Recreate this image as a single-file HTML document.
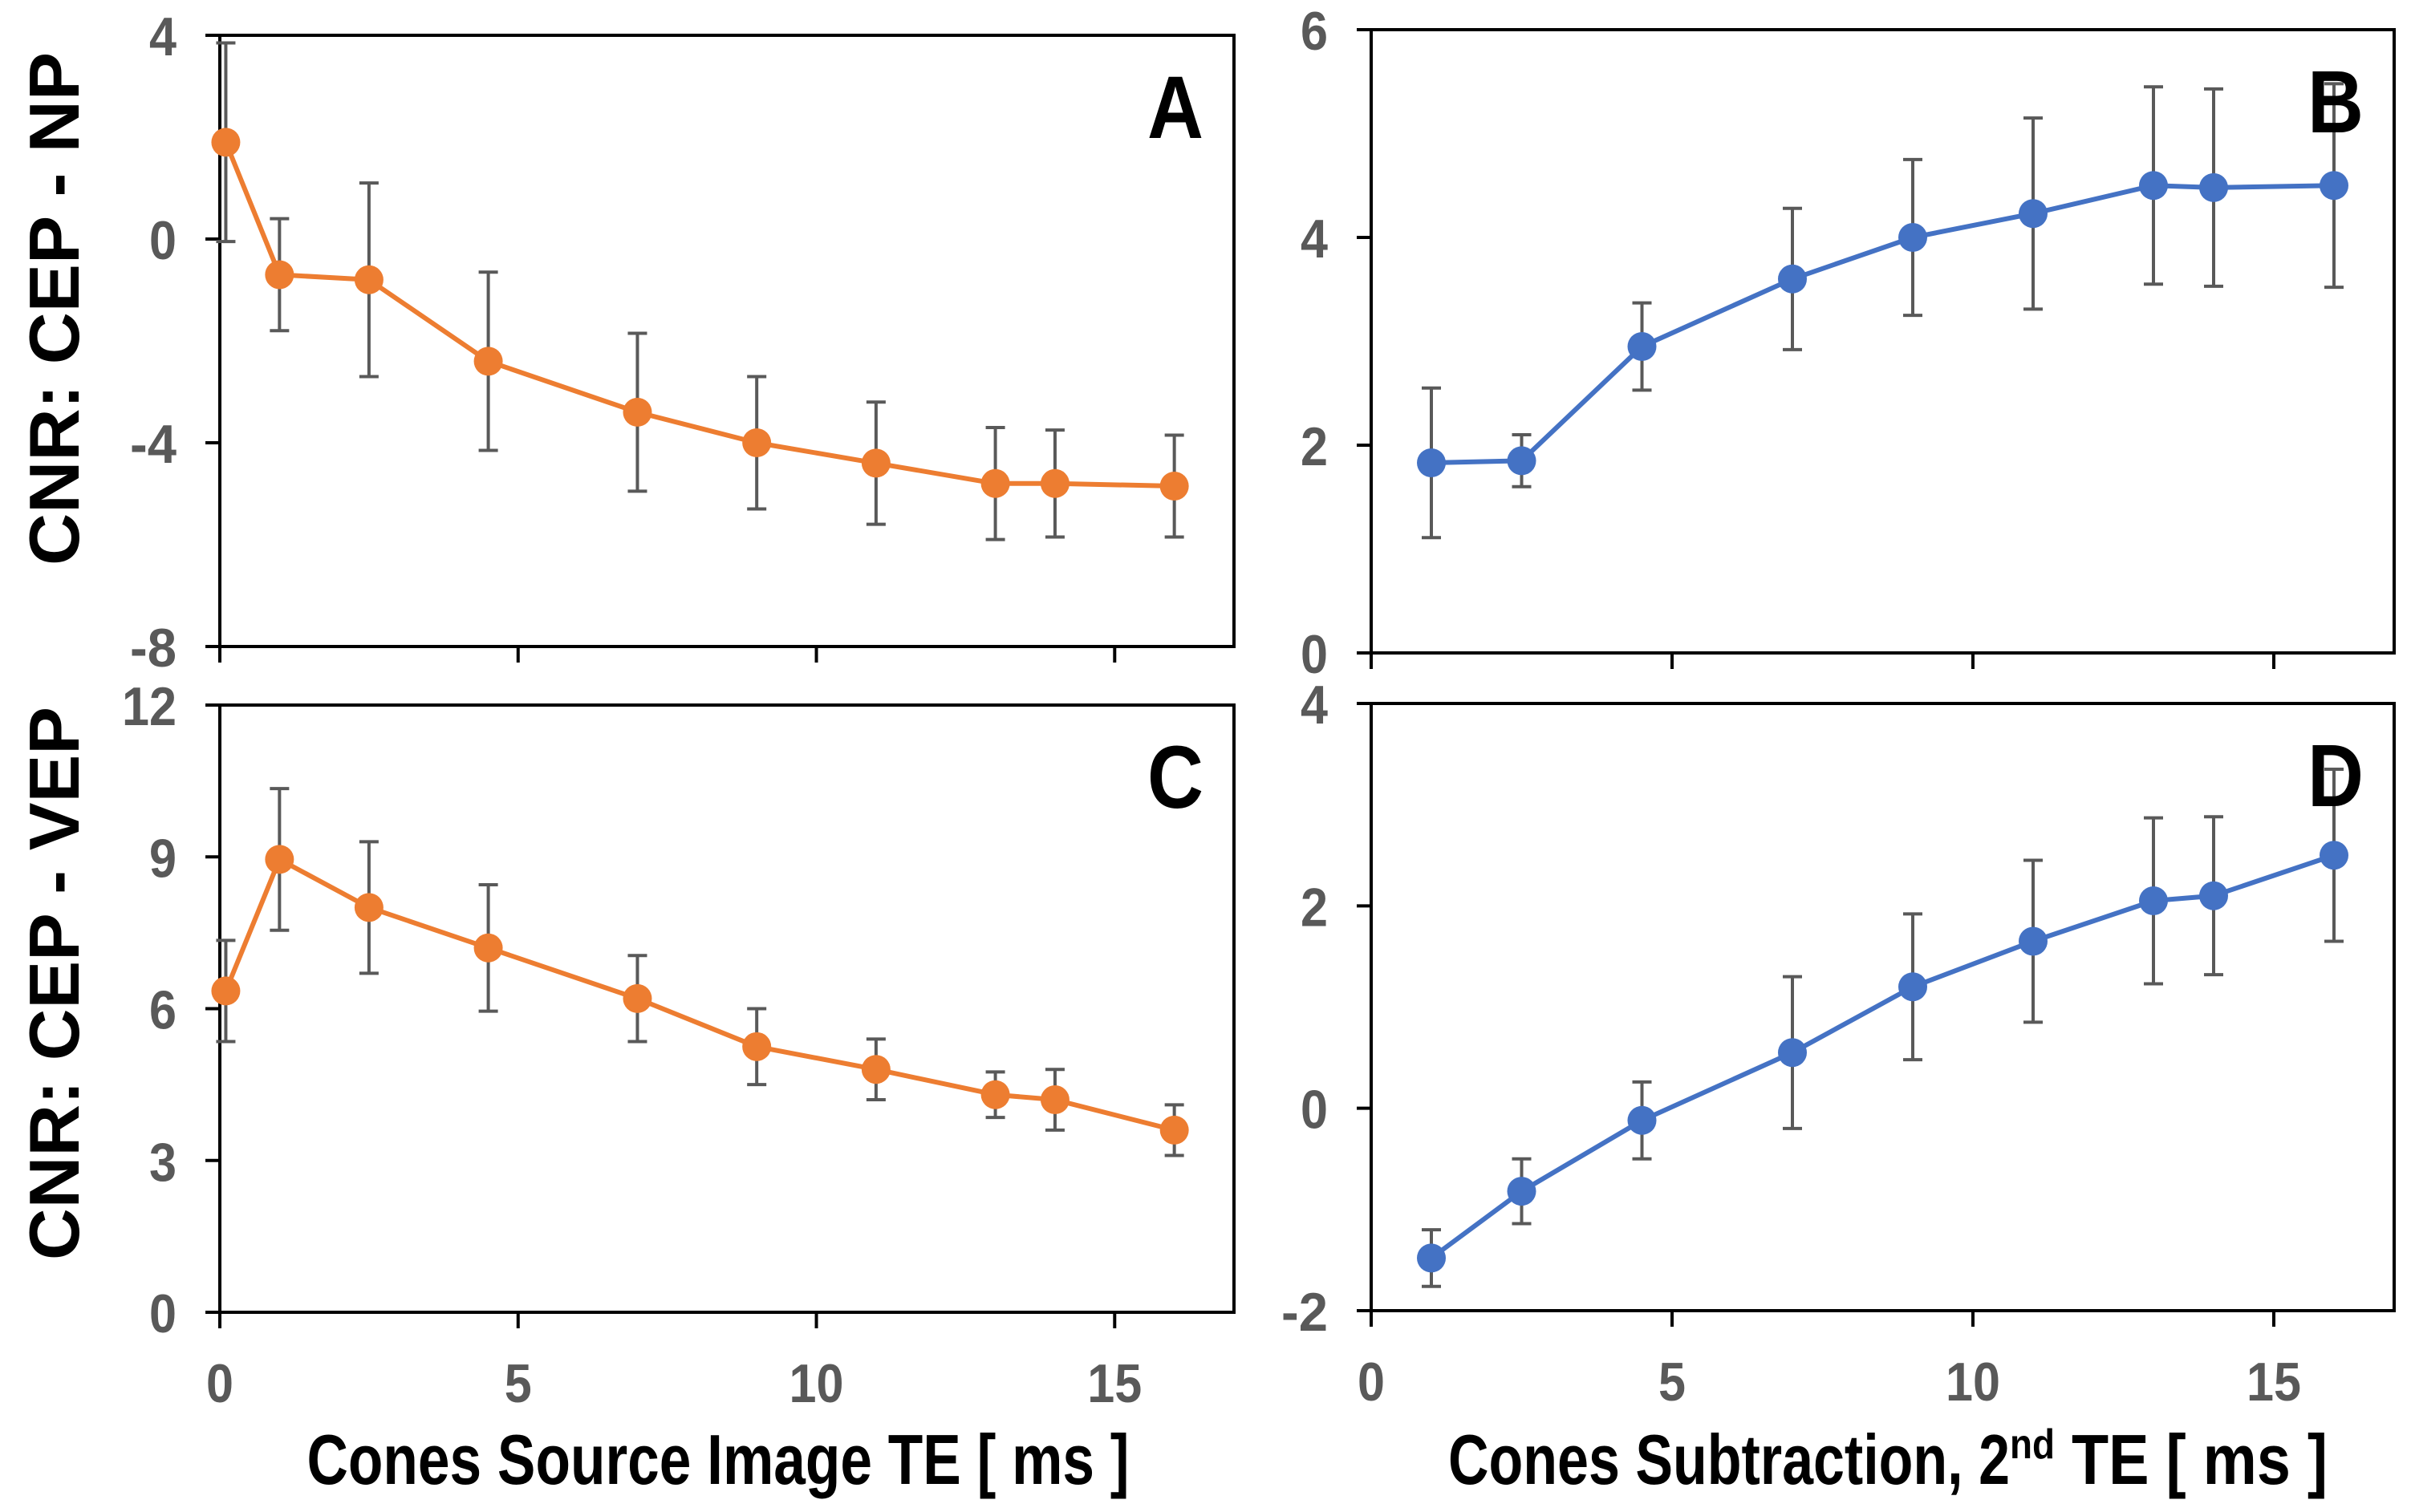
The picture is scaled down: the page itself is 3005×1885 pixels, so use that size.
<!DOCTYPE html>
<html><head><meta charset="utf-8">
<style>
html,body{margin:0;padding:0;background:#fff;}
svg{display:block;font-family:"Liberation Sans",sans-serif;}
</style></head>
<body>
<svg id="chart" width="3005" height="1885" viewBox="0 0 3005 1885" xmlns="http://www.w3.org/2000/svg"></svg>
<script>
const xA = [0.1, 1, 2.5, 4.5, 7, 9, 11, 13, 14, 16];
const yA = [1.9, -0.7, -0.8, -2.4, -3.4, -4.0, -4.4, -4.8, -4.8, -4.85];
const eA = [1.95, 1.1, 1.9, 1.75, 1.55, 1.3, 1.2, 1.1, 1.05, 1.0];
const xB = [1, 2.5, 4.5, 7, 9, 11, 13, 14, 16];
const yB = [1.83, 1.85, 2.95, 3.6, 4.0, 4.23, 4.5, 4.48, 4.5];
const eB = [0.72, 0.25, 0.42, 0.68, 0.75, 0.92, 0.95, 0.95, 0.98];
const xC = [0.1, 1, 2.5, 4.5, 7, 9, 11, 13, 14, 16];
const yC = [6.35, 8.95, 8.0, 7.2, 6.2, 5.25, 4.8, 4.3, 4.2, 3.6];
const eC = [1.0, 1.4, 1.3, 1.25, 0.85, 0.75, 0.6, 0.45, 0.6, 0.5];
const xD = [1, 2.5, 4.5, 7, 9, 11, 13, 14, 16];
const yD = [-1.48, -0.82, -0.12, 0.55, 1.2, 1.65, 2.05, 2.1, 2.5];
const eD = [0.28, 0.32, 0.38, 0.75, 0.72, 0.8, 0.82, 0.78, 0.85];
const xTicks = [0, 5, 10, 15];
const yTicksA = [4, 0, -4, -8];
const yTicksB = [6, 4, 2, 0];
const yTicksC = [12, 9, 6, 3, 0];
const yTicksD = [4, 2, 0, -2];

const NS = "http://www.w3.org/2000/svg";
const svg = document.getElementById('chart');
function mk(tag, attrs, parent) {
  const e = document.createElementNS(NS, tag);
  for (const k in attrs) e.setAttribute(k, attrs[k]);
  (parent || svg).appendChild(e);
  return e;
}
function numLen(t) { return String(t).length * 34; }

function panel(id, L, R, T, B, ymin, ymax, xs, ys, es, yticks, color, letter, showXLabels) {
  const g = mk('g', {});
  
  
  const sx = v => L + (v - 0) / 17 * (R - L);
  const sy = v => B - (v - ymin) / (ymax - ymin) * (B - T);
  const frame = mk('rect', {x: L, y: T, width: R - L, height: B - T, fill: 'none', stroke: '#000', 'stroke-width': 4}, g);
  
  
  xTicks.forEach(t => {
    const tk = mk('line', {x1: sx(t), x2: sx(t), y1: B, y2: B + 20, stroke: '#000', 'stroke-width': 4}, g);
    
    
    if (showXLabels) {
      const tl = mk('text', {x: sx(t), y: B + 112, 'text-anchor': 'middle', 'font-size': 68, 'font-weight': 'bold', fill: '#595959', textLength: numLen(t), lengthAdjust: 'spacingAndGlyphs'}, g);
      tl.textContent = t;
      
      
    }
  });
  yticks.forEach(t => {
    const tk = mk('line', {x1: L - 18, x2: L, y1: sy(t), y2: sy(t), stroke: '#000', 'stroke-width': 4}, g);
    
    
    const tl = mk('text', {x: L - 54, y: sy(t) + 25, 'text-anchor': 'end', 'font-size': 68, 'font-weight': 'bold', fill: '#595959', textLength: numLen(t) - (t < 0 ? 10 : 0), lengthAdjust: 'spacingAndGlyphs'}, g);
    tl.textContent = t;
    
    
  });
  xs.forEach((x, i) => {
    const cx = sx(x), hi = sy(ys[i] + es[i]), lo = sy(ys[i] - es[i]);
    const eb = mk('path', {d: `M${cx},${hi}V${lo}M${cx-12},${hi}H${cx+12}M${cx-12},${lo}H${cx+12}`, stroke: '#595959', 'stroke-width': 4, fill: 'none'}, g);
    
    
  });
  const pts = xs.map((x, i) => sx(x) + ',' + sy(ys[i])).join(' ');
  const line = mk('polyline', {points: pts, fill: 'none', stroke: color, 'stroke-width': 6, 'stroke-linejoin': 'round'}, g);
  
  
  xs.forEach((x, i) => {
    const c = mk('circle', {cx: sx(x), cy: sy(ys[i]), r: 18, fill: color}, g);
    
    
  });
  const lt = mk('text', {x: R - 38, y: T + 128, 'text-anchor': 'end', 'font-size': 110, 'font-weight': 'bold', fill: '#000', textLength: 70, lengthAdjust: 'spacingAndGlyphs'}, g);
  lt.textContent = letter;
  
  
}

panel('a', 274, 1538, 44, 806, -8, 4, xA, yA, eA, yTicksA, '#ED7D31', 'A', false);
panel('b', 1709, 2984, 37, 814, 0, 6, xB, yB, eB, yTicksB, '#4472C4', 'B', false);
panel('c', 274, 1538, 879, 1636, 0, 12, xC, yC, eC, yTicksC, '#ED7D31', 'C', true);
panel('d', 1709, 2984, 877, 1634, -2, 4, xD, yD, eD, yTicksD, '#4472C4', 'D', true);

function title(txt, x, y, rot, len, name) {
  const t = mk('text', {x: x, y: y, 'text-anchor': 'middle', 'font-size': 88, 'font-weight': 'bold', fill: '#000', textLength: len, lengthAdjust: 'spacingAndGlyphs', transform: rot ? `rotate(-90 ${x} ${y})` : ''});
  t.textContent = txt;
  
  
  return t;
}
title('CNR: CEP - NP', 98, 385, true, 640, 'y-axis-title-top');
title('CNR: CEP - VEP', 98, 1226, true, 690, 'y-axis-title-bottom');
title('Cones Source Image TE  [ ms ]', 895, 1850, false, 1025, 'x-axis-title-left');
const t2 = mk('text', {x: 1805, y: 1850, 'text-anchor': 'start', 'font-size': 88, 'font-weight': 'bold', fill: '#000'});


t2.innerHTML = '<tspan textLength="700" lengthAdjust="spacingAndGlyphs">Cones Subtraction, 2</tspan><tspan font-size="52" dy="-32" textLength="56" lengthAdjust="spacingAndGlyphs">nd</tspan><tspan dy="32" textLength="340" lengthAdjust="spacingAndGlyphs"> TE  [ ms ]</tspan>';
</script>
</body></html>
